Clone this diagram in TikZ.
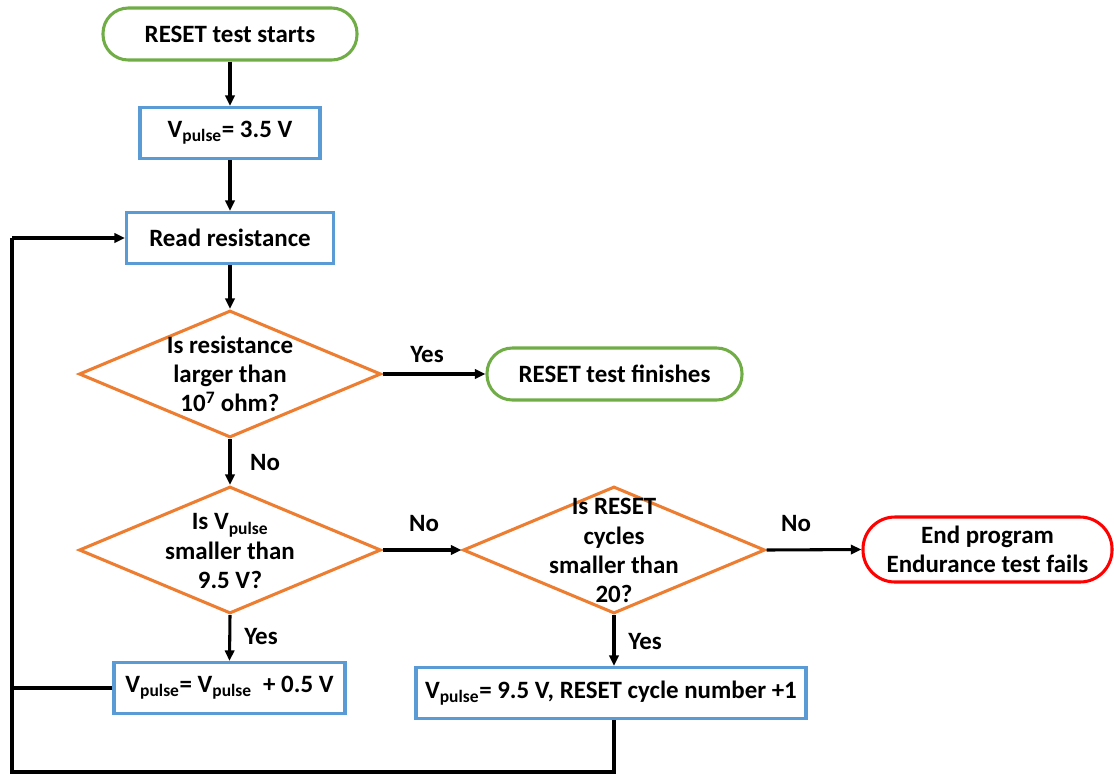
\documentclass[tikz,border=0pt]{standalone}
\usepackage{fontspec}
\setmainfont{Carlito}
\usetikzlibrary{arrows.meta,shapes.geometric,calc}
\definecolor{cgreen}{HTML}{70AD47}
\definecolor{cblue}{HTML}{5B9BD5}
\definecolor{corange}{HTML}{ED7D31}
\definecolor{cred}{HTML}{FF0000}
\newcommand{\vpl}{V\textsubscript{pulse}}
\begin{document}
\begin{tikzpicture}[x=0.75pt,y=-0.75pt,
  every node/.style={font=\fontsize{18.7}{21.9}\selectfont\bfseries, inner sep=0pt},
  term/.style={draw=cgreen, line width=2.3pt, rectangle, rounded corners=19pt, minimum height=52*0.75pt},
  endterm/.style={draw=cred, line width=2.3pt, rectangle, rounded corners=24pt, minimum height=65*0.75pt, align=center},
  proc/.style={draw=cblue, line width=2.3pt, rectangle, minimum height=51*0.75pt},
  dia/.style={draw=corange, line width=2.3pt, diamond, minimum width=302*0.75pt, minimum height=127*0.75pt, inner sep=0pt},
  dtext/.style={align=center},
  lbl/.style={},
  conn/.style={line width=2.3pt, -{Triangle[length=8pt,width=7pt]}},
  line/.style={line width=2.3pt}
]
\useasboundingbox (0,0) rectangle (1114,776);

\node[term, minimum width=254*0.75pt] (start) at (230,34) {RESET test starts};
\node[proc, minimum width=180*0.75pt] (v1) at (230,133) {\vpl= 3.5 V};
\node[proc, minimum width=207*0.75pt] (read) at (230,238) {Read resistance};
\node[dia] (d1) at (230,374) {};
\node[dtext] (d1t) at (230,374) {Is resistance\\larger than\\10\textsuperscript{7} ohm?};
\node[term, minimum width=255*0.75pt] (fin) at (614.5,374) {RESET test finishes};
\node[dia] (d2) at (230,550) {};
\node[dtext] (d2t) at (230,551) {Is \vpl\\smaller than\\9.5 V?};
\node[dia] (d3) at (614,550) {};
\node[dtext] (d3t) at (614,550.5) {Is RESET\\cycles\\smaller than\\20?};
\node[endterm, minimum width=249*0.75pt] (endp) at (987.5,549.5) {End program\\Endurance test fails};
\node[proc, minimum width=231*0.75pt] (inc) at (229.5,688) {\vpl= \vpl\ \ + 0.5 V};
\node[proc, minimum width=390*0.75pt] (set) at (611,693) {\vpl= 9.5 V, RESET cycle number +1};

\node[lbl] (yes1) at (427,354) {Yes};
\node[lbl] (no1) at (265,462) {No};
\node[lbl] (no2) at (424,523) {No};
\node[lbl] (no3) at (796,523) {No};
\node[lbl] (yes2) at (261,636) {Yes};
\node[lbl] (yes3) at (645,641) {Yes};

\coordinate (bl) at (12,772);
\coordinate (tl) at (12,238);

\draw[conn] (start) -- (v1);
\draw[conn] (v1) -- (read);
\draw[conn] (read) -- (d1.north);
\draw[conn] (d1.east) -- (fin.west);
\draw[conn] (d1.south) -- (d2.north);
\draw[conn] (d2.east) -- (d3.west);
\draw[conn] (d3.east) -- (endp.west);
\draw[conn] (d2.south) -- (inc.north);
\draw[conn] (d3.south) -- (d3.south |- set.north);
\draw[line] (d3.south |- set.south) -- (d3.south |- bl) -- (bl) -- (tl);
\draw[conn] (tl) -- (read.west);
\draw[line] (inc.west) -- (inc.west -| bl);
\end{tikzpicture}
\end{document}
